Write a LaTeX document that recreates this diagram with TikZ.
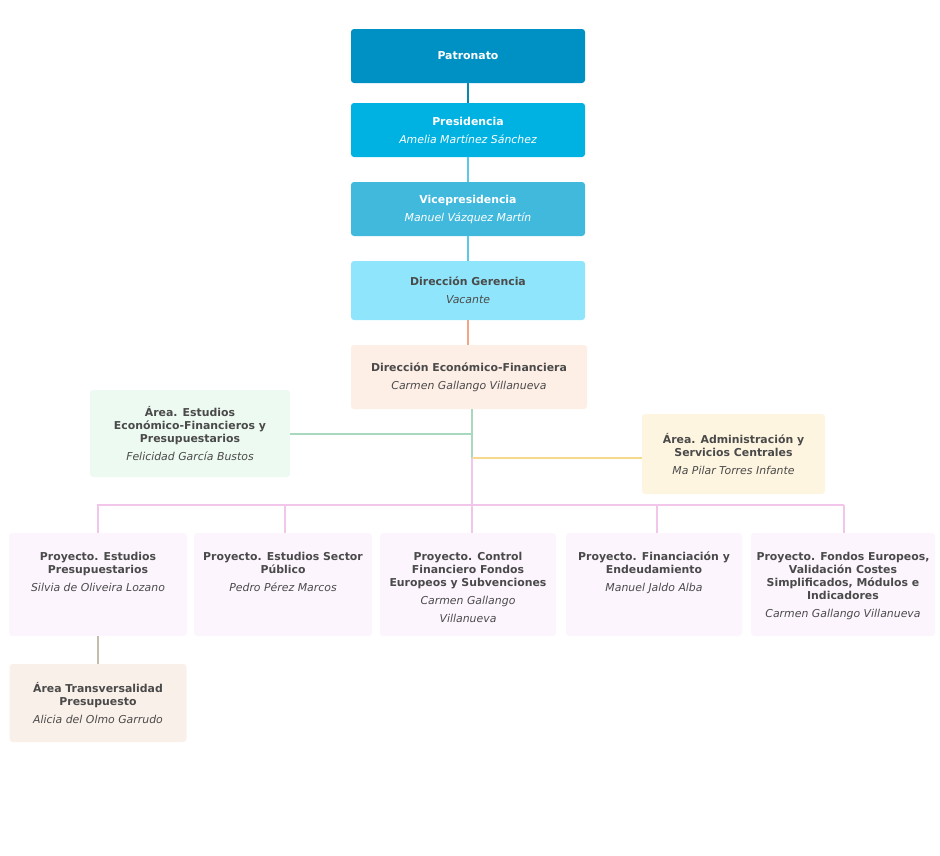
\documentclass[tikz,border=0pt]{standalone}
\usepackage{fontspec}
\setmainfont{DejaVu Sans}
\definecolor{cPat}{HTML}{0091C4}
\definecolor{cPres}{HTML}{00B2E2}
\definecolor{cVice}{HTML}{41B9DD}
\definecolor{cGer}{HTML}{8FE6FC}
\definecolor{cDef}{HTML}{FDEEE6}
\definecolor{cEst}{HTML}{EDFAF1}
\definecolor{cAdm}{HTML}{FEF5E1}
\definecolor{cPro}{HTML}{FCF5FD}
\definecolor{cTra}{HTML}{FAF0EA}
\definecolor{lPat}{HTML}{0C86B0}
\definecolor{lCy}{HTML}{5CC9E4}
\definecolor{lSal}{HTML}{F4A586}
\definecolor{lGr}{HTML}{A8D8BE}
\definecolor{lYe}{HTML}{F6D98A}
\definecolor{lPi}{HTML}{F1C6EA}
\definecolor{lGy}{HTML}{C5BCB0}
\definecolor{txt}{HTML}{4A4A4A}
\begin{document}
\begin{tikzpicture}[x=1pt,y=-1pt,font=\fontsize{10.9}{13}\selectfont,
  box/.style={rectangle,rounded corners=3pt,draw=none,inner sep=0pt,align=center,text=txt},
  pbox/.style={box,fill=cPro,minimum width=178pt,minimum height=103pt},
  lbl/.style={align=center,inner sep=0pt,text=txt,anchor=north},
  conn/.style={line width=2pt}]
\useasboundingbox (0,0) rectangle (940,855);
\node[box,fill=cPat,text=white,minimum width=234pt,minimum height=54pt] (pat) at (468,56) {\bfseries Patronato};
\node[box,fill=cPres,text=white,minimum width=234pt,minimum height=54pt] (pres) at (468,130) {{\bfseries Presidencia}\\[5pt]{\itshape Amelia Martínez Sánchez}};
\node[box,fill=cVice,text=white,minimum width=234pt,minimum height=54pt] (vice) at (468,209) {{\bfseries Vicepresidencia}\\[5pt]{\itshape Manuel Vázquez Martín}};
\node[box,fill=cGer,minimum width=234pt,minimum height=59pt] (ger) at (468,290.5) {{\bfseries Dirección Gerencia}\\[5pt]{\itshape Vacante}};
\node[box,fill=cDef,minimum width=236pt,minimum height=64pt] (def) at (469,377) {{\bfseries Dirección Económico-Financiera}\\[5pt]{\itshape Carmen Gallango Villanueva}};
\node[box,fill=cEst,minimum width=200pt,minimum height=87pt] (est) at (190,433.5) {{\bfseries Área. Estudios}\\{\bfseries Económico-Financieros y}\\{\bfseries Presupuestarios}\\[5pt]{\itshape Felicidad García Bustos}};
\node[box,fill=cAdm,minimum width=183pt,minimum height=80pt] (adm) at (733.5,454) {{\bfseries Área. Administración y}\\{\bfseries Servicios Centrales}\\[5pt]{\itshape Ma Pilar Torres Infante}};
\node[pbox] (p1) at (98,584.5) {};
\node[pbox] (p2) at (283,584.5) {};
\node[pbox,minimum width=176pt] (p3) at (468,584.5) {};
\node[pbox,minimum width=176pt] (p4) at (654,584.5) {};
\node[pbox,minimum width=184pt] (p5) at (843,584.5) {};
\node[lbl] (p1t) at ([yshift=-19pt]p1.north) {{\bfseries Proyecto. Estudios}\\{\bfseries Presupuestarios}\\[5pt]{\itshape Silvia de Oliveira Lozano}};
\node[lbl] (p2t) at ([yshift=-19pt]p2.north) {{\bfseries Proyecto. Estudios Sector}\\{\bfseries Público}\\[5pt]{\itshape Pedro Pérez Marcos}};
\node[lbl] (p3t) at ([yshift=-19pt]p3.north) {{\bfseries Proyecto. Control}\\{\bfseries Financiero Fondos}\\{\bfseries Europeos y Subvenciones}\\[5pt]{\itshape Carmen Gallango}\\[5pt]{\itshape Villanueva}};
\node[lbl] (p4t) at ([yshift=-19pt]p4.north) {{\bfseries Proyecto. Financiación y}\\{\bfseries Endeudamiento}\\[5pt]{\itshape Manuel Jaldo Alba}};
\node[lbl] (p5t) at ([yshift=-19pt]p5.north) {{\bfseries Proyecto. Fondos Europeos,}\\{\bfseries Validación Costes}\\{\bfseries Simplificados, Módulos e}\\{\bfseries Indicadores}\\[5pt]{\itshape Carmen Gallango Villanueva}};
\node[box,fill=cTra,minimum width=177pt,minimum height=78pt] (tra) at (98,703) {{\bfseries Área Transversalidad}\\{\bfseries Presupuesto}\\[5pt]{\itshape Alicia del Olmo Garrudo}};
\coordinate (jg) at (471.5,434);
\coordinate (jy) at (471.5,458);
\coordinate (bus) at (471.5,505);
\draw[conn,lPat] (pat) -- (pres);
\draw[conn,lCy] (pres) -- (vice);
\draw[conn,lCy] (vice) -- (ger);
\draw[conn,lSal] (ger.south) -- (ger.south |- def.north);
\draw[conn,lGr] (def.south -| jg) -- (jy);
\draw[conn,lGr] (jg) -- (est.east |- jg);
\draw[conn,lYe] (jy) -- (adm.west |- jy);
\draw[conn,lPi] (jy) -- (bus);
\draw[conn,lPi] ([xshift=-1pt]p1.north |- bus) -- ([xshift=1pt]p5.north |- bus);
\foreach \p/\x in {p1/98,p2/285,p3/471.5,p4/657,p5/844} \draw[conn,lPi] (\x,505) -- (\p.north -| \x,0);
\draw[conn,lGy] (p1) -- (tra);
\end{tikzpicture}
\end{document}
